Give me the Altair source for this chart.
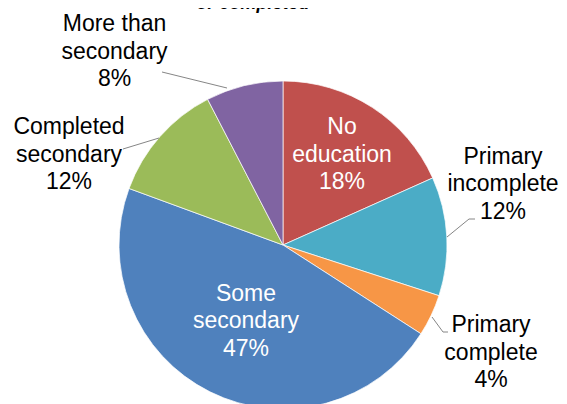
import altair as alt
import pandas as pd

# ---- data ----
categories = ["No education", "Primary incomplete", "Primary complete",
              "Some secondary", "Completed secondary", "More than secondary"]
values = [18.3, 11.7, 4.1, 46.5, 11.8, 7.6]
pct_labels = ["18%", "12%", "4%", "47%", "12%", "8%"]
name_lines = [["No", "education"], ["Primary", "incomplete"], ["Primary", "complete"],
              ["Some", "secondary"], ["Completed", "secondary"], ["More than", "secondary"]]
colors = ["#C0504D", "#4BACC6", "#F79646", "#4F81BD", "#9BBB59", "#8064A2"]
title_text = "or completed"

# ---- layout ----
W, H = 551, 396
CX, CY, R = 275, 237, 164
LH = 27.5
# offsets of each label block's middle line from the pie centre
label_offsets = [(59, -90.5), (220, -61), (208, 107.5), (-37, 76), (-214, -90.5), (-168.5, -193.5)]
label_inside = [True, False, False, True, False, False]
leader_offsets = {
    "More than secondary": [(-121, -173), (-56, -157)],
    "Completed secondary": [(-160, -96), (-124, -107)],
    "Primary incomplete": [(192, -26), (186, -26), (164, -8)],
    "Primary complete": [(149, 72), (160, 87), (165, 87)],
}

slices = pd.DataFrame({"category": categories, "value": values, "order": list(range(len(categories)))})

labels = pd.DataFrame({
    "label": ["\n".join(n + [p]) for n, p in zip(name_lines, pct_labels)],
    "lx": [CX + d[0] for d in label_offsets],
    "ly": [CY + d[1] - LH for d in label_offsets],
    "tcolor": ["white" if i else "black" for i in label_inside],
})

rows = []
for seg, pts in leader_offsets.items():
    for k, (dx, dy) in enumerate(pts):
        rows.append({"seg": seg, "k": k, "px": CX + dx, "py": CY + dy})
leaders = pd.DataFrame(rows)

pie = alt.Chart(slices).mark_arc(radius=R, stroke="white", strokeWidth=0.7).encode(
    theta=alt.Theta("value:Q", stack=True),
    color=alt.Color("category:N", scale=alt.Scale(domain=categories, range=colors), legend=None),
    order=alt.Order("order:Q"),
    x=alt.value(CX),
    y=alt.value(CY),
)

lines = alt.Chart(leaders).mark_line(color="#868686", strokeWidth=1).encode(
    x=alt.X("px:Q", scale=None, axis=None),
    y=alt.Y("py:Q", scale=None, axis=None),
    detail="seg:N",
    order="k:Q",
)

text = alt.Chart(labels).mark_text(
    font="Liberation Sans", fontSize=23, lineBreak="\n", lineHeight=LH,
    align="center", baseline="middle",
).encode(
    x=alt.X("lx:Q", scale=None, axis=None),
    y=alt.Y("ly:Q", scale=None, axis=None),
    text="label:N",
    color=alt.Color("tcolor:N", scale=None),
)

title = alt.Chart(pd.DataFrame({"t": [title_text]})).mark_text(
    font="Liberation Sans", fontSize=18, fontStyle="italic", fontWeight="bold",
    align="center", baseline="alphabetic", color="black",
).encode(x=alt.value(245), y=alt.value(1), text="t:N")

chart = alt.layer(pie, lines, text, title).properties(
    width=W, height=H, padding=0,
    autosize=alt.AutoSizeParams(type="none"),
    background="white",
).configure_view(stroke=None)

chart.save("out.html", embed_options={"renderer": "svg", "actions": False})
